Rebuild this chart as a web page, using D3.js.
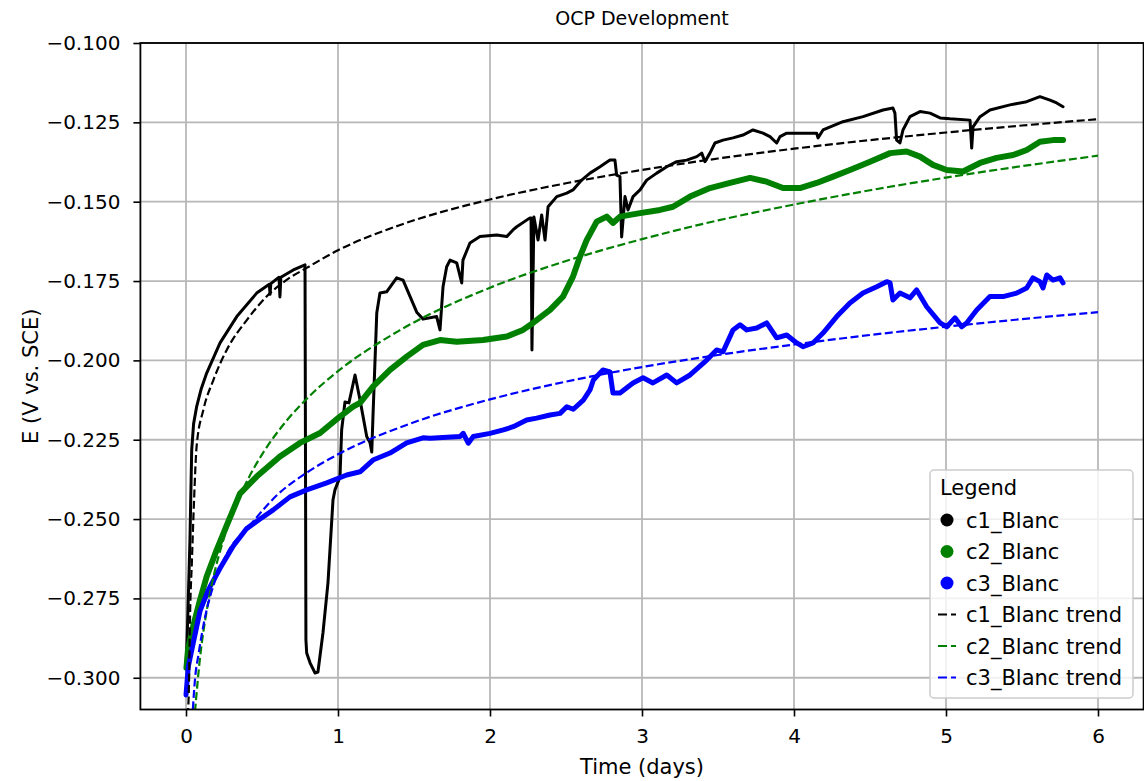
<!DOCTYPE html>
<html>
<head>
<meta charset="utf-8">
<script src="https://cdn.jsdelivr.net/npm/d3@7"></script>
<style>
  html, body { margin: 0; padding: 0; background: #fff; }
  svg { display: block; font-family: "DejaVu Sans", sans-serif; }
  .grid line { stroke: #b8b8b8; stroke-width: 1.8; }
  .axis path { display: none; }
  .axis line { stroke: #000; stroke-width: 1.6; }
  .axis text { font-family: "DejaVu Sans", sans-serif; font-size: 20px; fill: #000; }
</style>
</head>
<body>
<div id="chart"></div>
<script>
// measured series (days, V vs. SCE)
const c1Days = [0, 0.005, 0.013, 0.026, 0.0375, 0.05, 0.07, 0.1, 0.136, 0.224, 0.334, 0.465, 0.548, 0.553, 0.558, 0.612, 0.618, 0.624, 0.706, 0.783, 0.789, 0.794, 0.816, 0.849, 0.868, 0.901, 0.934, 0.967, 0.98, 1.013, 1.024, 1.046, 1.072, 1.112, 1.145, 1.189, 1.211, 1.222, 1.23, 1.243, 1.255, 1.276, 1.32, 1.386, 1.428, 1.518, 1.559, 1.649, 1.671, 1.691, 1.715, 1.737, 1.781, 1.814, 1.822, 1.868, 1.934, 2.044, 2.11, 2.151, 2.176, 2.263, 2.27, 2.276, 2.289, 2.316, 2.34, 2.362, 2.382, 2.439, 2.505, 2.546, 2.603, 2.658, 2.724, 2.789, 2.822, 2.833, 2.855, 2.866, 2.888, 2.908, 2.941, 2.987, 3.031, 3.097, 3.163, 3.228, 3.294, 3.36, 3.393, 3.414, 3.447, 3.48, 3.533, 3.599, 3.664, 3.73, 3.796, 3.842, 3.886, 3.908, 3.952, 4.039, 4.149, 4.158, 4.191, 4.322, 4.454, 4.586, 4.651, 4.664, 4.675, 4.697, 4.717, 4.763, 4.829, 4.895, 4.961, 5.026, 5.158, 5.169, 5.178, 5.224, 5.289, 5.421, 5.531, 5.618, 5.684, 5.728, 5.77];
const c1E = [-0.2966, -0.2912, -0.2786, -0.2566, -0.2282, -0.22, -0.2146, -0.209, -0.204, -0.1945, -0.1862, -0.1788, -0.176, -0.1792, -0.1758, -0.1738, -0.18, -0.1738, -0.1715, -0.1699, -0.2881, -0.2922, -0.2953, -0.2985, -0.2982, -0.2859, -0.2701, -0.244, -0.2408, -0.2367, -0.2219, -0.2131, -0.2134, -0.2046, -0.2125, -0.224, -0.226, -0.2289, -0.2178, -0.2008, -0.1851, -0.1788, -0.1784, -0.174, -0.1747, -0.1848, -0.187, -0.1862, -0.1904, -0.1768, -0.1705, -0.1684, -0.1693, -0.1756, -0.1684, -0.163, -0.161, -0.1605, -0.161, -0.1589, -0.1579, -0.1551, -0.1551, -0.1967, -0.1548, -0.1621, -0.1542, -0.1621, -0.1516, -0.1484, -0.1473, -0.1463, -0.1432, -0.141, -0.139, -0.1369, -0.1369, -0.1416, -0.1421, -0.1611, -0.1484, -0.1526, -0.1484, -0.1463, -0.1432, -0.141, -0.139, -0.1374, -0.1369, -0.1358, -0.1347, -0.1374, -0.1347, -0.1315, -0.1306, -0.1299, -0.129, -0.1274, -0.1284, -0.1295, -0.1315, -0.1295, -0.1284, -0.1284, -0.1284, -0.1299, -0.1274, -0.1248, -0.1232, -0.1211, -0.1205, -0.1221, -0.1306, -0.1315, -0.1274, -0.1232, -0.1216, -0.1221, -0.1236, -0.1239, -0.1243, -0.1331, -0.1264, -0.1232, -0.1211, -0.1195, -0.1185, -0.1169, -0.118, -0.1189, -0.1201];

const c2Days = [0.003, 0.013, 0.046, 0.092, 0.136, 0.202, 0.268, 0.355, 0.465, 0.618, 0.75, 0.882, 1.013, 1.099, 1.145, 1.23, 1.342, 1.452, 1.559, 1.671, 1.781, 1.954, 2.11, 2.217, 2.283, 2.395, 2.48, 2.546, 2.592, 2.636, 2.702, 2.768, 2.809, 2.855, 2.987, 3.118, 3.204, 3.316, 3.447, 3.579, 3.711, 3.82, 3.928, 4.039, 4.149, 4.257, 4.368, 4.5, 4.632, 4.741, 4.829, 4.914, 5.005, 5.112, 5.224, 5.333, 5.441, 5.531, 5.618, 5.704, 5.77];
const c2E = [-0.2969, -0.2912, -0.284, -0.2755, -0.2681, -0.2597, -0.252, -0.242, -0.2366, -0.2303, -0.226, -0.2229, -0.2177, -0.2146, -0.2134, -0.2083, -0.203, -0.1988, -0.1951, -0.1936, -0.1941, -0.1936, -0.1925, -0.1904, -0.1882, -0.1841, -0.1799, -0.1736, -0.1673, -0.1621, -0.1563, -0.1547, -0.1567, -0.1547, -0.1536, -0.1526, -0.1516, -0.1484, -0.1457, -0.1441, -0.1425, -0.1437, -0.1457, -0.1457, -0.1441, -0.1421, -0.14, -0.1374, -0.1347, -0.1342, -0.1358, -0.1384, -0.14, -0.1405, -0.1378, -0.1362, -0.1353, -0.1337, -0.1311, -0.1306, -0.1306];

const c3Days = [0, 0.015, 0.048, 0.092, 0.147, 0.224, 0.311, 0.399, 0.487, 0.574, 0.684, 0.794, 0.926, 1.057, 1.145, 1.23, 1.342, 1.452, 1.559, 1.605, 1.803, 1.824, 1.857, 1.89, 2.0, 2.088, 2.153, 2.241, 2.307, 2.395, 2.461, 2.505, 2.548, 2.614, 2.658, 2.68, 2.743, 2.789, 2.809, 2.855, 2.941, 3.007, 3.072, 3.163, 3.228, 3.316, 3.426, 3.491, 3.533, 3.599, 3.645, 3.689, 3.755, 3.82, 3.886, 3.952, 4.018, 4.059, 4.125, 4.191, 4.281, 4.368, 4.454, 4.544, 4.61, 4.632, 4.651, 4.697, 4.763, 4.807, 4.873, 4.961, 5.005, 5.059, 5.103, 5.136, 5.202, 5.289, 5.375, 5.465, 5.531, 5.572, 5.618, 5.638, 5.663, 5.704, 5.75, 5.77];
const c3E = [-0.3054, -0.2965, -0.289, -0.279, -0.2723, -0.2655, -0.2585, -0.253, -0.25, -0.2471, -0.243, -0.2408, -0.2386, -0.2361, -0.2351, -0.2314, -0.2292, -0.226, -0.2244, -0.2245, -0.224, -0.223, -0.2261, -0.224, -0.223, -0.2219, -0.2209, -0.2188, -0.2182, -0.2172, -0.2167, -0.2146, -0.2154, -0.2125, -0.2093, -0.2062, -0.203, -0.2036, -0.2103, -0.2103, -0.2071, -0.2055, -0.2071, -0.2046, -0.2071, -0.2046, -0.1999, -0.1967, -0.1973, -0.1904, -0.1888, -0.1904, -0.1898, -0.1882, -0.1929, -0.192, -0.1945, -0.1957, -0.1945, -0.1914, -0.1862, -0.1819, -0.1788, -0.1768, -0.1752, -0.1756, -0.181, -0.1788, -0.1803, -0.1778, -0.1831, -0.1882, -0.1894, -0.1866, -0.1894, -0.1882, -0.1841, -0.1799, -0.1799, -0.1788, -0.1772, -0.174, -0.1752, -0.1772, -0.1731, -0.1747, -0.174, -0.1756];

// trend curves
const c1TrendDays = [0.012, 0.02, 0.026, 0.039, 0.053, 0.07, 0.114, 0.18, 0.268, 0.4, 0.53, 0.66, 0.8, 1, 1.4, 2, 2.5, 3, 3.5, 4, 4.5, 5, 5.5, 6];
const c1TrendE = [-0.312, -0.301, -0.282, -0.263, -0.244, -0.227, -0.2156, -0.2062, -0.1967, -0.1873, -0.1799, -0.1747, -0.1707, -0.1653, -0.1575, -0.1493, -0.1442, -0.14, -0.1364, -0.1333, -0.1306, -0.1282, -0.126, -0.124];
const c2TrendDays = [0.059, 0.092, 0.136, 0.18, 0.245, 0.334, 0.421, 0.51, 0.65, 0.82, 1, 1.4, 2, 2.5, 3, 3.5, 4, 4.5, 5, 5.5, 6];
const c2TrendE = [-0.3107, -0.2938, -0.279, -0.2684, -0.2567, -0.245, -0.2362, -0.2289, -0.2197, -0.2109, -0.2034, -0.1907, -0.1771, -0.1687, -0.1618, -0.1559, -0.1509, -0.1464, -0.1424, -0.1388, -0.1355];
const c3TrendDays = [0.045, 0.06, 0.081, 0.125, 0.18, 0.268, 0.42, 0.6, 0.8, 1, 1.5, 2, 2.5, 3, 3.5, 4, 4.5, 5, 5.5, 6];
const c3TrendE = [-0.31, -0.3, -0.293, -0.281, -0.271, -0.261, -0.252, -0.2424, -0.2352, -0.2296, -0.2195, -0.2123, -0.2067, -0.2021, -0.1983, -0.195, -0.192, -0.1894, -0.187, -0.1848];

const seriesNames = ["c1_Blanc", "c2_Blanc", "c3_Blanc"];
const seriesColors = ["#000000", "#008000", "#0000ff"];
const xTicks = [0, 1, 2, 3, 4, 5, 6];
const yTicks = [-0.300, -0.275, -0.250, -0.225, -0.200, -0.175, -0.150, -0.125, -0.100];

const W = 1144, H = 781;
const margin = { left: 140.4, right: 0.4, top: 43, bottom: 71.5 };
const innerW = W - margin.left - margin.right;
const innerH = H - margin.top - margin.bottom;

const x = d3.scaleLinear().domain([-0.3, 6.3]).range([0, innerW]);
const y = d3.scaleLinear().domain([-0.31, -0.1]).range([innerH, 0]);

const svg = d3.select("#chart").append("svg").attr("width", W).attr("height", H);
svg.append("defs").append("clipPath").attr("id", "plot-clip")
    .append("rect").attr("width", innerW).attr("height", innerH);

const g = svg.append("g").attr("transform", `translate(${margin.left},${margin.top})`);

// grid
g.append("g").attr("class", "grid")
    .selectAll("line").data(xTicks).join("line")
    .attr("x1", d => x(d)).attr("x2", d => x(d)).attr("y1", 0).attr("y2", innerH);
g.append("g").attr("class", "grid")
    .selectAll("line").data(yTicks).join("line")
    .attr("y1", d => y(d)).attr("y2", d => y(d)).attr("x1", 0).attr("x2", innerW);

// series
const plot = g.append("g").attr("clip-path", "url(#plot-clip)");
const line = d3.line().x(d => x(d[0])).y(d => y(d[1]));
const zip = (a, b) => a.map((v, i) => [v, b[i]]);

const measured = [zip(c1Days, c1E), zip(c2Days, c2E), zip(c3Days, c3E)];
const trends = [zip(c1TrendDays, c1TrendE), zip(c2TrendDays, c2TrendE), zip(c3TrendDays, c3TrendE)];
const widths = [3, 6, 5];

measured.forEach((pts, i) => {
    plot.append("path").datum(pts)
        .attr("d", line)
        .attr("fill", "none")
        .attr("stroke", seriesColors[i])
        .attr("stroke-width", widths[i])
        .attr("stroke-linejoin", "round")
        .attr("stroke-linecap", "round");
});

const trendLine = d3.line().curve(d3.curveMonotoneX).x(d => x(d[0])).y(d => y(d[1]));
trends.forEach((pts, i) => {
    plot.append("path").datum(pts)
        .attr("d", trendLine)
        .attr("fill", "none")
        .attr("stroke", seriesColors[i])
        .attr("stroke-width", 2.2)
        .attr("stroke-dasharray", "8,3.5");
});

// axes (d3 puts font-family on the group, the CSS above overrides it on the text)
g.append("g").attr("class", "axis")
    .attr("transform", `translate(0,${innerH})`)
    .call(d3.axisBottom(x).tickValues(xTicks).tickFormat(d3.format("d")).tickSize(7).tickPadding(12));
g.append("g").attr("class", "axis")
    .call(d3.axisLeft(y).tickValues(yTicks).tickFormat(d3.format(".3f")).tickSize(7).tickPadding(13));

// frame
g.append("rect").attr("width", innerW).attr("height", innerH)
    .attr("fill", "none").attr("stroke", "#000").attr("stroke-width", 1.8);

// labels
svg.append("text").attr("x", margin.left + innerW / 2).attr("y", 25)
    .attr("text-anchor", "middle").attr("font-size", 19).text("OCP Development");
svg.append("text").attr("x", margin.left + innerW / 2).attr("y", 774)
    .attr("text-anchor", "middle").attr("font-size", 21).text("Time (days)");
svg.append("text")
    .attr("transform", `translate(38,${margin.top + innerH / 2}) rotate(-90)`)
    .attr("text-anchor", "middle").attr("font-size", 21).text("E (V vs. SCE)");

// legend
const lg = svg.append("g").attr("transform", "translate(930,470)");
lg.append("rect").attr("width", 203).attr("height", 228).attr("rx", 4)
    .attr("fill", "#fff").attr("fill-opacity", 0.8)
    .attr("stroke", "#cccccc").attr("stroke-width", 1.5);
lg.append("text").attr("x", 10).attr("y", 25).attr("font-size", 21).text("Legend");

const rowY = i => 50 + i * 31.5;
seriesNames.forEach((name, i) => {
    lg.append("circle").attr("cx", 17).attr("cy", rowY(i)).attr("r", 6.5).attr("fill", seriesColors[i]);
    lg.append("text").attr("x", 36).attr("y", rowY(i) + 7.5).attr("font-size", 21).text(name);
});
seriesNames.forEach((name, i) => {
    const yy = rowY(i + 3);
    lg.append("line").attr("x1", 8).attr("x2", 26).attr("y1", yy).attr("y2", yy)
        .attr("stroke", seriesColors[i]).attr("stroke-width", 2.2).attr("stroke-dasharray", "9,4");
    lg.append("text").attr("x", 36).attr("y", yy + 7.5).attr("font-size", 21).text(name + " trend");
});
</script>
</body>
</html>
